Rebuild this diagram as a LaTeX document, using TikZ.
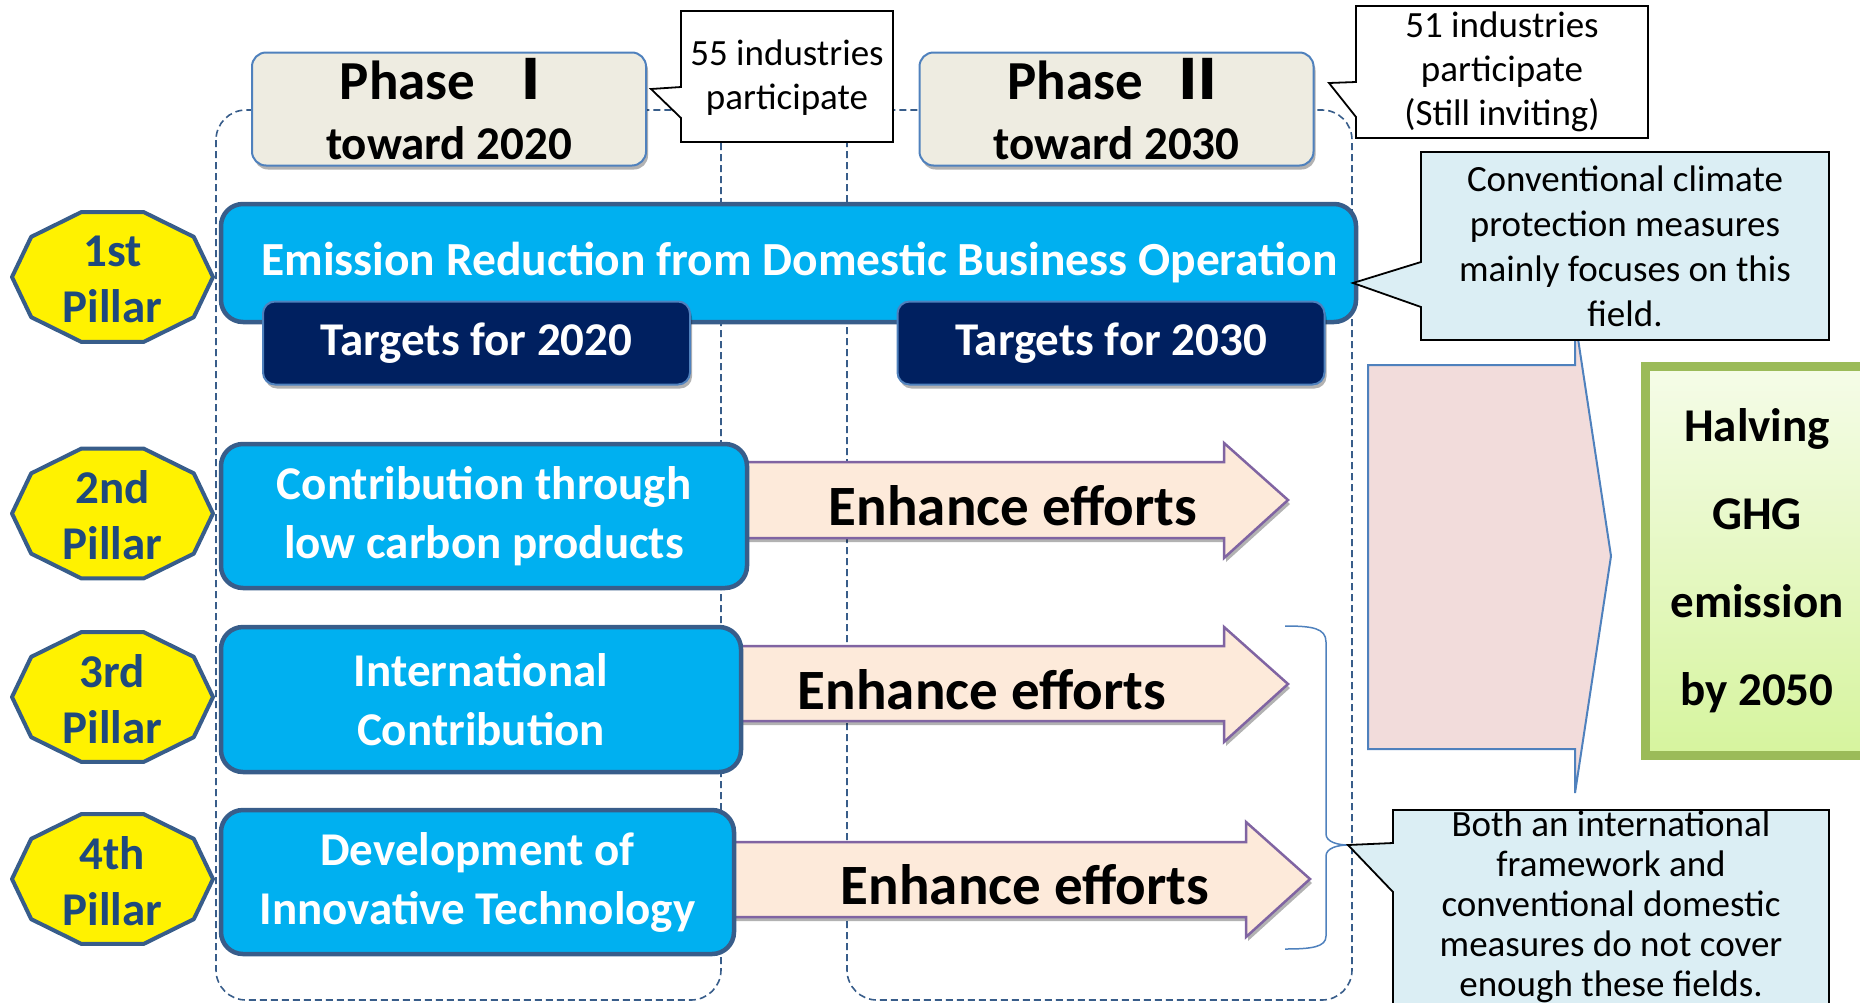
\documentclass[tikz,border=0pt]{standalone}
\usepackage{fontspec}
\setmainfont{Carlito}
\newfontfamily\cjk{Noto Sans CJK JP}
\usepackage{tikz}
\usetikzlibrary{calc,shadows}
\definecolor{barblue}{HTML}{00B0F0}
\definecolor{boxline}{HTML}{385D8A}
\definecolor{navybox}{HTML}{002060}
\definecolor{phasefill}{HTML}{EEECE1}
\definecolor{phaseline}{HTML}{4F81BD}
\definecolor{pillartext}{HTML}{1F497D}
\definecolor{effortfill}{HTML}{FDEADA}
\definecolor{effortline}{HTML}{8064A2}
\definecolor{bigfill}{HTML}{F2DCDB}
\definecolor{notefill}{HTML}{DBEEF4}
\definecolor{goalline}{HTML}{9BBB59}
\definecolor{goaltop}{HTML}{F5FCE8}
\definecolor{goalbot}{HTML}{D6F49E}
\tikzstyle{softshadow} = [drop shadow={shadow xshift=2pt,shadow yshift=-4pt,opacity=.3,fill=black}]
\tikzstyle{column} = [draw=boxline, line width=1.6pt, dash pattern=on 7pt off 4pt, rounded corners=30pt]
\tikzstyle{phase} = [draw=phaseline, line width=2pt, fill=phasefill, rounded corners=14pt, minimum width=394pt, minimum height=113pt, align=center, font=\fontsize{47}{60}\selectfont\bfseries, softshadow]
\tikzstyle{note} = [draw=black, line width=1.8pt, line join=miter]
\tikzstyle{notetext} = [align=center, font=\fontsize{37}{44}\selectfont]
\tikzstyle{bar} = [draw=boxline, line width=4.5pt, fill=barblue, rounded corners=22pt, text=white, align=center, font=\fontsize{47}{59}\selectfont\bfseries]
\tikzstyle{target} = [draw=phaseline, line width=2pt, fill=navybox, rounded corners=12pt, text=white, minimum width=427pt, minimum height=83pt, font=\fontsize{47}{56}\selectfont\bfseries, softshadow]
\tikzstyle{pillar} = [draw=boxline, line width=4pt, fill=yellow, line join=round]
\tikzstyle{effort} = [draw=effortline, line width=2.5pt, fill=effortfill, softshadow]
\tikzstyle{efforttext} = [font=\fontsize{57}{60}\selectfont\bfseries]
\tikzstyle{goal} = [draw=goalline, line width=9pt, top color=goaltop, bottom color=goalbot, minimum width=224pt, minimum height=389pt, align=center, font=\fontsize{47}{88}\selectfont\bfseries, softshadow]

\begin{document}
\begin{tikzpicture}[x=1pt, y=-1pt]
            \useasboundingbox (0,0) rectangle (1860,1002);

            % phase columns
            \draw[column] (216,110) rectangle (721,1000);
            \draw[column] (847,110) rectangle (1352,1000);

            % phase headers
            \node[phase] (ph1) at (449,109) {{\fontsize{55}{60}\selectfont Phase\enspace{\cjk Ⅰ}}\\toward 2020};
            \node[phase] (ph2) at (1116.5,109) {{\fontsize{55}{60}\selectfont Phase\enspace{\cjk Ⅱ}}\\toward 2030};

            % participation callouts
            \draw[note, fill=white] (681,11) -- (893,11) -- (893,142) -- (681,142) -- (681,118) -- (651,89) -- (681,87) -- cycle;
            \node[notetext] (n55) at (787,78) {55 industries\\participate};
            \draw[note, fill=white] (1356,6) -- (1648,6) -- (1648,138) -- (1356,138) -- (1356,117) -- (1329,83) -- (1356,82) -- cycle;
            \node[notetext] (n51) at (1502,72) {51 industries\\participate\\(Still inviting)};

            % enhance arrows
            \draw[effort] (740,462) -- (1224,462) -- (1224,443) -- (1288,500) -- (1224,558) -- (1224,538) -- (740,538) -- cycle;
            \node[efforttext] (e2) at (1013,506) {Enhance efforts};
            \draw[effort] (735,646) -- (1224,646) -- (1224,627) -- (1288,684) -- (1224,742) -- (1224,721) -- (735,721) -- cycle;
            \node[efforttext] (e3) at (982,690) {Enhance efforts};
            \draw[effort] (725,842) -- (1246,842) -- (1246,822) -- (1310,879) -- (1246,937) -- (1246,917) -- (725,917) -- cycle;
            \node[efforttext] (e4) at (1025,885) {Enhance efforts};

            % first pillar bar
            \node[bar, minimum width=1135pt, minimum height=118pt, inner xsep=0pt, font=\fontsize{47.5}{59}\selectfont\bfseries] (b1) at (788.5,263) {\hspace*{22pt}Emission Reduction from Domestic Business Operation};
            \node[target] (t1) at (476.5,343) {Targets for 2020};
            \node[target] (t2) at (1111,343) {Targets for 2030};

            % other pillars
            \node[bar, minimum width=526pt, minimum height=144pt] (b2) at (484,516) {Contribution through\\low carbon products};
            \node[bar, minimum width=520pt, minimum height=145pt] (b3) at (481,699.5) {International\\Contribution};
            \node[bar, minimum width=513pt, minimum height=144pt] (b4) at (477.5,882) {Development of\\Innovative Technology};

            % pillar badges
            \foreach \n/\t/\y in {p1/1st/277, p2/2nd/513.5, p3/3rd/697, p4/4th/879} {
              \begin{scope}[shift={(112.5,\y)}]
                \draw[pillar] (0:100.5pt and 68.3pt) \foreach \a in {36,72,...,324} { -- (\a:100.5pt and 68.3pt) } -- cycle;
                \node[align=center, text=pillartext, font=\fontsize{47}{56}\selectfont\bfseries] (\n) at (0,2) {\t\\Pillar};
              \end{scope}
            }

            % brace over pillars 3 and 4
            \draw[phaseline, line width=1.5pt] (1285,626) .. controls (1312,626) and (1326,628) .. (1326,642) -- (1326,834) .. controls (1326,842) and (1338,845) .. (1348,845) .. controls (1338,845) and (1326,848) .. (1326,856) -- (1326,936) .. controls (1326,947) and (1312,949) .. (1285,949);

            % big arrow to goal
            \draw[draw=phaseline, line width=2pt, fill=bigfill, line join=miter] (1368,365) -- (1575,365) -- (1575,319) -- (1611,556) -- (1575,793) -- (1575,749) -- (1368,749) -- cycle;

            % comment callouts
            \draw[note, fill=notefill] (1421,152) -- (1829,152) -- (1829,340) -- (1421,340) -- (1421,307) -- (1353,283) -- (1421,262) -- cycle;
            \node[notetext, font=\fontsize{37}{45}\selectfont] (c1) at (1625,246.5) {Conventional climate\\protection measures\\mainly focuses on this\\field.};
            \draw[note, fill=notefill] (1393,810) -- (1829,810) -- (1829,1010) -- (1393,1010) -- (1393,892) -- (1348,845) -- (1393,843) -- cycle;
            \node[notetext, font=\fontsize{37}{40}\selectfont] (c2) at (1611,906.5) {Both an international\\framework and\\conventional domestic\\measures do not cover\\enough these fields.};

            % goal
            \node[goal] (goal) at (1757,561) {Halving\\GHG\\emission\\by 2050};
        \end{tikzpicture}
\end{document}
